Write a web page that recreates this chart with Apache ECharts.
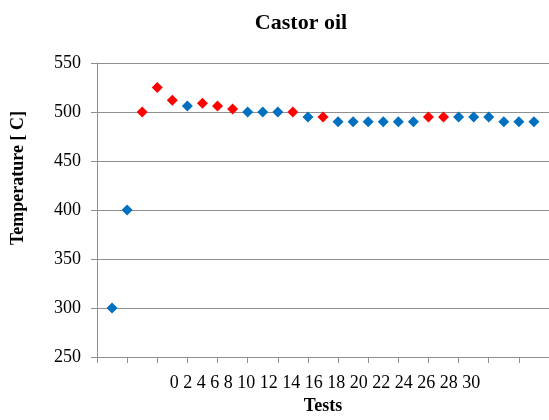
<!DOCTYPE html>
<html>
<head>
<meta charset="utf-8">
<script src="https://cdn.jsdelivr.net/npm/echarts@6/dist/echarts.min.js"></script>
<style>
html,body{margin:0;padding:0;background:#fff;}
#chart{width:549px;height:420px;}
</style>
</head>
<body>
<div id="chart"></div>
<script>
const chartTitle = 'Castor oil';
const xAxisTitle = 'Tests';
const yAxisTitle = 'Temperature [ C]';
const xTickLabels = [0, 2, 4, 6, 8, 10, 12, 14, 16, 18, 20, 22, 24, 26, 28, 30];
const yTickValues = [250, 300, 350, 400, 450, 500, 550];
const tests = [1, 2, 3, 4, 5, 6, 7, 8, 9, 10, 11, 12, 13, 14, 15, 16, 17, 18, 19, 20, 21, 22, 23, 24, 25, 26, 27, 28, 29];
const temperatures = [300, 400, 500, 525, 512, 506, 509, 506, 503, 500, 500, 500, 500, 495, 495, 490, 490, 490, 490, 490, 490, 495, 495, 495, 495, 495, 490, 490, 490];
const redFlags = [0, 0, 1, 1, 1, 0, 1, 1, 1, 0, 0, 0, 1, 0, 1, 0, 0, 0, 0, 0, 0, 1, 1, 0, 0, 0, 0, 0, 0];

const blueData = [];
const redData = [];
tests.forEach((t, i) => {
  (redFlags[i] ? redData : blueData).push([t, temperatures[i]]);
});

const serif = '"Liberation Serif", "DejaVu Serif", serif';
const gridColor = '#8f8f8f';

const chart = echarts.init(document.getElementById('chart'), null, {renderer: 'canvas'});
chart.setOption({
  animation: false,
  backgroundColor: '#ffffff',
  title: {
    text: chartTitle,
    left: 296,
    top: 7,
    textAlign: 'center',
    textStyle: {fontFamily: serif, fontSize: 22, fontWeight: 'bold', color: '#000'}
  },
  grid: {left: 97, top: 63, width: 454, height: 298, containLabel: false},
  xAxis: {
    type: 'value',
    min: 0, max: 30, interval: 2,
    name: xAxisTitle,
    nameLocation: 'middle',
    nameGap: 40,
    nameTextStyle: {fontFamily: serif, fontSize: 18, fontWeight: 'bold', color: '#000'},
    axisLine: {show: true, lineStyle: {color: gridColor, width: 1}},
    axisTick: {show: true, inside: false, length: 6, lineStyle: {color: gridColor}},
    axisLabel: {show: false},
    splitLine: {show: false}
  },
  yAxis: {
    type: 'value',
    min: yTickValues[0], max: yTickValues[yTickValues.length - 1], interval: 50,
    axisLine: {show: true, lineStyle: {color: gridColor, width: 1}},
    axisTick: {show: true, inside: false, length: 6, lineStyle: {color: gridColor}},
    axisLabel: {margin: 16, fontFamily: serif, fontSize: 18, color: '#000'},
    splitLine: {show: true, lineStyle: {color: gridColor, width: 1}}
  },
  graphic: [
    {
      type: 'text',
      x: 325, y: 383,
      style: {
        text: xTickLabels.join(' '),
        font: '18px ' + serif,
        fill: '#000',
        align: 'center',
        verticalAlign: 'middle'
      }
    },
    {
      type: 'text',
      x: 18, y: 178,
      rotation: Math.PI / 2,
      style: {
        text: yAxisTitle,
        font: 'bold 18px ' + serif,
        fill: '#000',
        align: 'center',
        verticalAlign: 'middle'
      }
    }
  ],
  series: [
    {
      type: 'scatter',
      name: 'blue',
      data: blueData,
      symbol: 'diamond',
      symbolSize: 11,
      itemStyle: {color: '#0070C0', opacity: 1}
    },
    {
      type: 'scatter',
      name: 'red',
      data: redData,
      symbol: 'diamond',
      symbolSize: 11,
      itemStyle: {color: '#FF0000', opacity: 1}
    }
  ]
});
</script>
</body>
</html>
